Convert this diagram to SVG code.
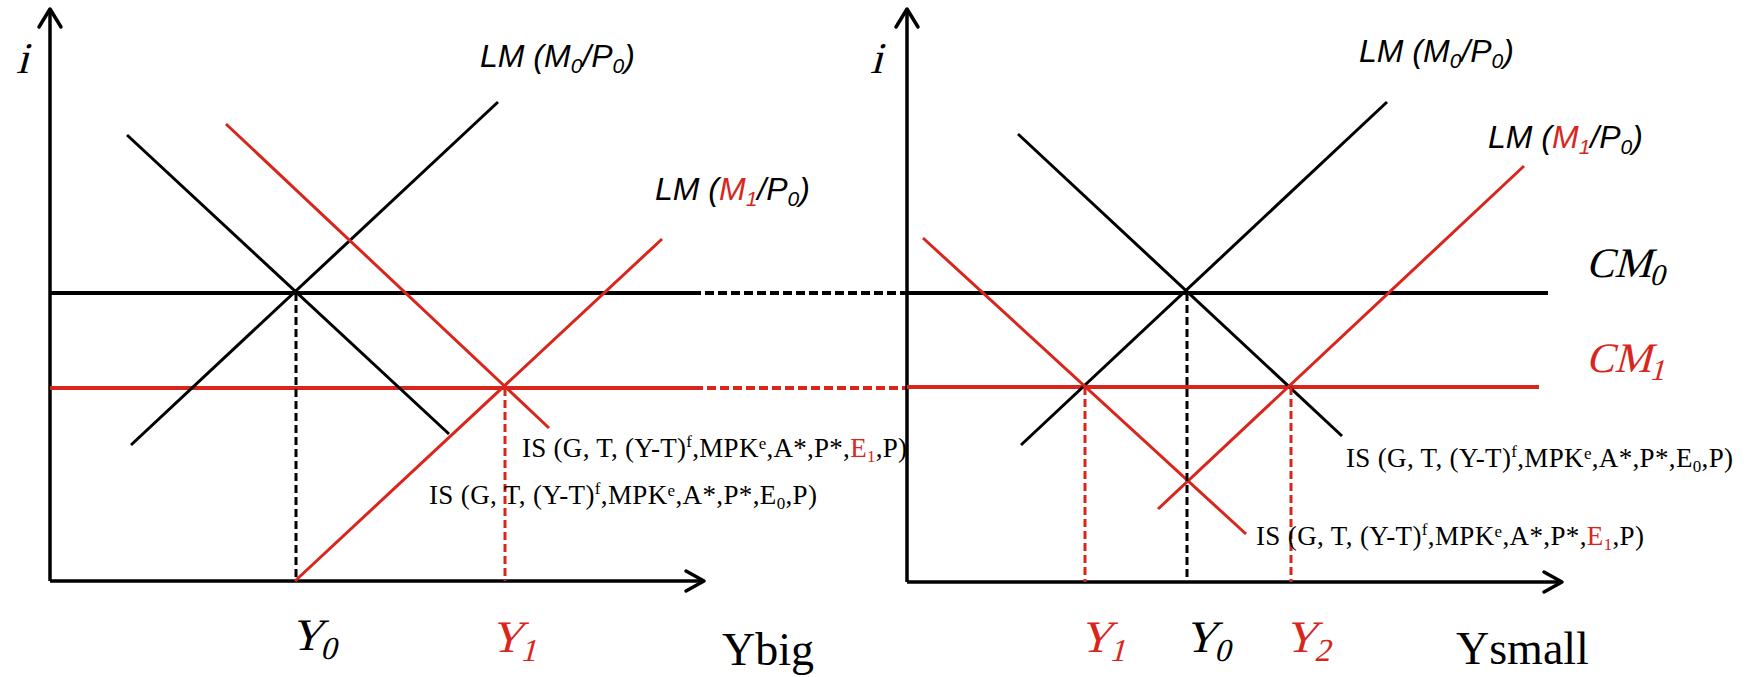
<svg xmlns="http://www.w3.org/2000/svg" width="1748" height="677" viewBox="0 0 1748 677">
<style>
.ax{stroke:#000;stroke-width:3.5;fill:none}
.ah{stroke:#000;stroke-width:3.5;fill:none;stroke-linecap:round;stroke-linejoin:round}
.bk{stroke:#000;stroke-width:3;fill:none}
.rd{stroke:#d9261c;stroke-width:3;fill:none}
.cmb{stroke:#000;stroke-width:4;fill:none}
.cmr{stroke:#d9261c;stroke-width:4;fill:none}
.dk{stroke:#000;stroke-width:3;stroke-dasharray:8 4;fill:none}
.dr{stroke:#d9261c;stroke-width:3;stroke-dasharray:8 4;fill:none}
.dkh{stroke:#000;stroke-width:4;stroke-dasharray:9 4;fill:none}
.drh{stroke:#d9261c;stroke-width:4;stroke-dasharray:9 4;fill:none}
.lm{font-family:"Liberation Sans",Arial,sans-serif;font-style:italic;font-size:32px;fill:#000}
.is{font-family:"Liberation Serif","Times New Roman",serif;font-size:27px;fill:#000}
.sv{font-family:"Liberation Serif","Times New Roman",serif;font-style:normal;font-size:45px;fill:#000}
.axl{font-family:"Liberation Serif","Times New Roman",serif;font-size:46px;fill:#000}
.red{fill:#d9261c}
</style>
<rect width="1748" height="677" fill="#fff"/>

<g id="left-panel">
  <g id="left-axes">
    <line class="ax" x1="50" y1="10" x2="50" y2="581"/>
    <line class="ax" x1="50" y1="581" x2="703" y2="581"/>
    <polyline class="ah" points="39,27 50,9 61,27"/>
    <polyline class="ah" points="686,571 704,581 686,591"/>
    <text class="sv" transform="translate(16,73) skewX(-15)" style="font-size:44px">i</text>
    <text class="axl" x="722" y="665">Ybig</text>
  </g>
  <g id="left-CM0"><line class="cmb" x1="50" y1="293" x2="692" y2="293"/></g>
  <g id="left-CM1"><line class="cmr" x1="50" y1="388" x2="694" y2="388"/></g>
  <g id="left-LM0"><line class="bk" x1="131" y1="445" x2="498" y2="102"/></g>
  <g id="left-IS0"><line class="bk" x1="127" y1="135" x2="449" y2="434"/></g>
  <g id="left-IS1"><line class="rd" x1="226" y1="124" x2="549" y2="428"/></g>
  <g id="left-LM1"><line class="rd" x1="295" y1="581" x2="662" y2="239"/></g>
  <g id="left-drops">
    <line class="dk" x1="296" y1="293" x2="296" y2="581"/>
    <line class="dr" x1="505" y1="388" x2="505" y2="581"/>
  </g>
  <g id="left-labels">
    <text class="lm" x="480" y="67">LM (M<tspan font-size="21" dy="6">0</tspan><tspan dy="-6">/P</tspan><tspan font-size="21" dy="6">0</tspan><tspan dy="-6">)</tspan></text>
    <text class="lm" x="655" y="200">LM (<tspan class="red">M</tspan><tspan class="red" font-size="21" dy="6">1</tspan><tspan dy="-6">/P</tspan><tspan font-size="21" dy="6">0</tspan><tspan dy="-6">)</tspan></text>
    <text class="is" x="522" y="457" textLength="385">IS (G, T, (Y-T)<tspan font-size="17" dy="-10">f</tspan><tspan dy="10">,MPK</tspan><tspan font-size="17" dy="-8">e</tspan><tspan dy="8">,A*,P*,</tspan><tspan class="red">E</tspan><tspan class="red" font-size="17" dy="5">1</tspan><tspan dy="-5">,P)</tspan></text>
    <text class="is" x="429" y="504" textLength="388">IS (G, T, (Y-T)<tspan font-size="17" dy="-10">f</tspan><tspan dy="10">,MPK</tspan><tspan font-size="17" dy="-8">e</tspan><tspan dy="8">,A*,P*,E</tspan><tspan font-size="17" dy="5">0</tspan><tspan dy="-5">,P)</tspan></text>
    <text class="sv" transform="translate(290,650) skewX(-15)">Y<tspan font-size="32" dy="9">0</tspan></text>
    <text class="sv red" transform="translate(490,652) skewX(-15)">Y<tspan font-size="32" dy="9">1</tspan></text>
  </g>
</g>

<g id="connectors">
  <line class="dkh" x1="692" y1="293" x2="907" y2="293"/>
  <line class="drh" x1="694" y1="388" x2="907" y2="388"/>
</g>

<g id="right-panel">
  <g id="right-axes">
    <line class="ax" x1="907" y1="10" x2="907" y2="582"/>
    <line class="ax" x1="907" y1="582" x2="1561" y2="582"/>
    <polyline class="ah" points="896,27 907,9 918,27"/>
    <polyline class="ah" points="1544,572 1562,582 1544,592"/>
    <text class="sv" transform="translate(870,73) skewX(-15)" style="font-size:44px">i</text>
    <text class="axl" x="1456" y="664">Ysmall</text>
  </g>
  <g id="right-CM0"><line class="cmb" x1="907" y1="293" x2="1548" y2="293"/></g>
  <g id="right-CM1"><line class="cmr" x1="907" y1="387" x2="1539" y2="387"/></g>
  <g id="right-LM0"><line class="bk" x1="1021" y1="445" x2="1387" y2="102"/></g>
  <g id="right-IS0"><line class="bk" x1="1018" y1="134" x2="1342" y2="436"/></g>
  <g id="right-IS1"><line class="rd" x1="923" y1="238" x2="1246" y2="534"/></g>
  <g id="right-LM1"><line class="rd" x1="1158" y1="509" x2="1524" y2="166"/></g>
  <g id="right-drops">
    <line class="dk" x1="1187" y1="293" x2="1187" y2="582"/>
    <line class="dr" x1="1085" y1="387" x2="1085" y2="582"/>
    <line class="dr" x1="1291" y1="387" x2="1291" y2="582"/>
  </g>
  <g id="right-labels">
    <text class="lm" x="1359" y="62">LM (M<tspan font-size="21" dy="6">0</tspan><tspan dy="-6">/P</tspan><tspan font-size="21" dy="6">0</tspan><tspan dy="-6">)</tspan></text>
    <text class="lm" x="1488" y="148">LM (<tspan class="red">M</tspan><tspan class="red" font-size="21" dy="6">1</tspan><tspan dy="-6">/P</tspan><tspan font-size="21" dy="6">0</tspan><tspan dy="-6">)</tspan></text>
    <text class="sv" transform="translate(1586,277) skewX(-15)" style="font-size:42px">CM<tspan font-size="30" dy="8">0</tspan></text>
    <text class="sv red" transform="translate(1586,372) skewX(-15)" style="font-size:42px">CM<tspan font-size="30" dy="8">1</tspan></text>
    <text class="is" x="1346" y="467" textLength="387">IS (G, T, (Y-T)<tspan font-size="17" dy="-10">f</tspan><tspan dy="10">,MPK</tspan><tspan font-size="17" dy="-8">e</tspan><tspan dy="8">,A*,P*,E</tspan><tspan font-size="17" dy="5">0</tspan><tspan dy="-5">,P)</tspan></text>
    <text class="is" x="1256" y="545" textLength="388">IS (G, T, (Y-T)<tspan font-size="17" dy="-10">f</tspan><tspan dy="10">,MPK</tspan><tspan font-size="17" dy="-8">e</tspan><tspan dy="8">,A*,P*,</tspan><tspan class="red">E</tspan><tspan class="red" font-size="17" dy="5">1</tspan><tspan dy="-5">,P)</tspan></text>
    <text class="sv red" transform="translate(1079,652) skewX(-15)">Y<tspan font-size="32" dy="9">1</tspan></text>
    <text class="sv" transform="translate(1184,652) skewX(-15)">Y<tspan font-size="32" dy="9">0</tspan></text>
    <text class="sv red" transform="translate(1284,652) skewX(-15)">Y<tspan font-size="32" dy="9">2</tspan></text>
  </g>
</g>
</svg>
